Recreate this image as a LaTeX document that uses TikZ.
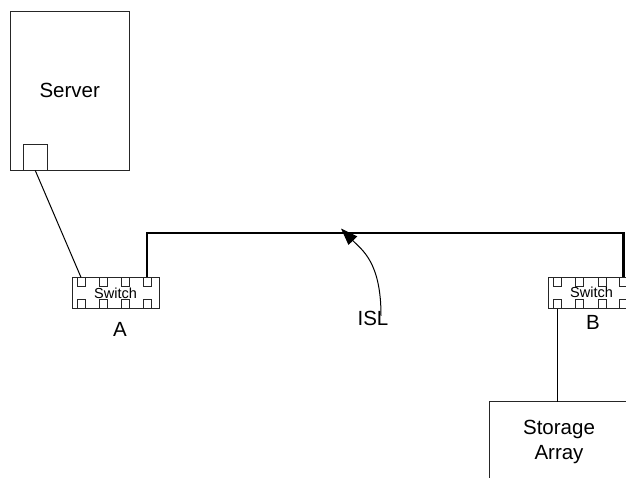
\documentclass[tikz,border=0pt]{standalone}
\usepackage{fontspec}
\setmainfont{Liberation Sans}
\usetikzlibrary{arrows.meta}
\begin{document}
\begin{tikzpicture}[x=1pt,y=-1pt,
  box/.style={draw=black!85, line width=0.9pt, inner sep=0pt, font=\fontsize{20.5}{24.5}\selectfont, align=center},
  swbox/.style={draw=black!85, line width=0.9pt, minimum width=87pt, minimum height=31pt, inner sep=0pt, font=\fontsize{14.5}{16}\selectfont},
  port/.style={draw=black!85, line width=0.9pt, fill=white, minimum width=8pt, minimum height=9pt, inner sep=0pt},
  lbl/.style={inner sep=0pt, font=\fontsize{20.5}{24.5}\selectfont, align=center},
  edge/.style={draw=black!85, line width=0.9pt},
  thinwire/.style={draw=black, line width=1pt},
  thickwire/.style={draw=black, line width=2.4pt},
]
\useasboundingbox (0,0) rectangle (626,478);
\clip (0,0) rectangle (626,478);

% Server
\node[box, minimum width=118.5pt, minimum height=158.5pt] (server) at (69.75,90.75) {Server};
\node[port, minimum width=24.5pt, minimum height=26pt] (sport) at (35.25,157) {};

% Switch A
\node[swbox] (swA) at (115.5,293) {Switch};
\node[port] (a1) at (81,282.3) {};
\node[port] (a2) at (103,282.3) {};
\node[port] (a3) at (125.5,282.3) {};
\node[port] (a4) at (147,282.3) {};
\node[port] (a5) at (81,304.3) {};
\node[port] (a6) at (103,304.3) {};
\node[port] (a7) at (125.5,304.3) {};
\node[port] (a8) at (147,304.3) {};
\node[lbl] (labA) at (120,329) {A};

% Switch B
\node[swbox] (swB) at (591.5,292.5) {Switch};
\node[port] (b1) at (557.5,281.8) {};
\node[port] (b2) at (579.5,281.8) {};
\node[port] (b3) at (602,281.8) {};
\node[port] (b4) at (623.5,281.8) {};
\node[port] (b5) at (557.5,303.8) {};
\node[port] (b6) at (579.5,303.8) {};
\node[port] (b7) at (602,303.8) {};
\node[port] (b8) at (623.5,303.8) {};
\node[lbl] (labB) at (593,322.5) {B};

% Storage (only its left and top edges lie inside the picture)
\node[lbl, minimum width=160pt, minimum height=90pt] (stor) at (570,447) {};
\draw[edge] (stor.north east) -- (stor.north west) -- (stor.south west);
\node[lbl] (storlbl) at (559,442) {Storage\\Array};

% Wires
\draw[thinwire] (sport.south) -- (a1.north);
\draw[thickwire] (a4.north) -- (147,233) -- (623.5,233) -- (b4.north);
\draw[thinwire] (b5.south) -- (stor.north -| b5.south);

% ISL
\node[lbl] (isl) at (373,318) {ISL};
\coordinate (islpt) at (341,228.5);
\draw[thinwire, -{Triangle[length=17pt,width=12pt]}] ([xshift=8pt,yshift=-5pt]isl.north) .. controls (381,262) and (362,250) .. (islpt);
\end{tikzpicture}
\end{document}
